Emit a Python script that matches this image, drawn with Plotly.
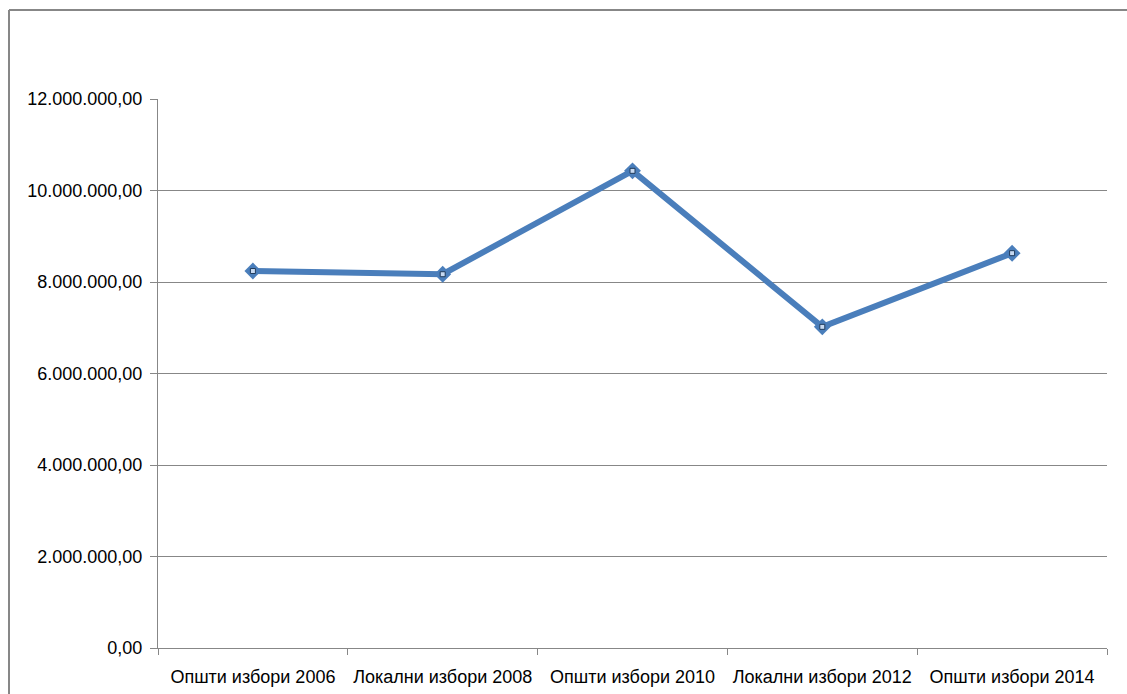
import plotly.graph_objects as go

categories = ["Општи избори 2006", "Локални избори 2008", "Општи избори 2010",
              "Локални избори 2012", "Општи избори 2014"]
values = [8240000, 8170000, 10430000, 7020000, 8630000]
y_ticks = [0, 2000000, 4000000, 6000000, 8000000, 10000000, 12000000]

W, H = 1127, 694
L, R, T, B = 158, 20, 99, 46
pw, ph = W - L - R, H - T - B

fig = go.Figure()
fig.add_trace(go.Scatter(
    x=categories, y=values, mode="lines+markers",
    line=dict(color="#4A7EBB", width=6),
    marker=dict(symbol="diamond", size=13, color="#4A7EBB"),
    hoverinfo="skip", showlegend=False,
))
fig.add_trace(go.Scatter(
    x=categories, y=values, mode="markers",
    marker=dict(symbol="square", size=5, color="#C6D9F1",
                line=dict(color="#1F3B5C", width=1)),
    hoverinfo="skip", showlegend=False,
))

font = dict(family="Liberation Sans, Arial, sans-serif", size=18, color="#000000")

fig.update_layout(
    width=W, height=H,
    margin=dict(l=L, r=R, t=T, b=B, autoexpand=False),
    paper_bgcolor="white", plot_bgcolor="white",
    separators=",.",
    font=font,
    xaxis=dict(
        type="category", tickson="boundaries", ticks="outside", ticklen=6,
        tickcolor="#878787", showline=True, linecolor="#878787", linewidth=1,
        showgrid=False, tickfont=font, range=[-0.5, 4.5],
        ticklabelstandoff=12, automargin=False,
    ),
    yaxis=dict(
        range=[0, 12000000], tickvals=y_ticks, tickformat=",.2f",
        ticks="outside", ticklen=7, tickcolor="#878787",
        showline=True, linecolor="#878787", linewidth=1,
        showgrid=True, gridcolor="#878787", gridwidth=1,
        zeroline=False, tickfont=font, ticklabelstandoff=4, automargin=False,
    ),
)

# outer chart-area border (only top and left edges are inside the picture)
x0 = (9 - L) / pw
y1 = (H - B - 10) / ph
fig.add_shape(type="line", xref="paper", yref="paper",
              x0=x0, x1=1.1, y0=y1, y1=y1,
              line=dict(color="#878787", width=2), layer="below")
fig.add_shape(type="line", xref="paper", yref="paper",
              x0=x0, x1=x0, y0=-0.2, y1=y1,
              line=dict(color="#878787", width=2), layer="below")

fig.write_html(
    "out.html",
    config={"displayModeBar": False},
    post_script="document.body.style.margin='0';document.body.style.overflow='hidden';",
)
